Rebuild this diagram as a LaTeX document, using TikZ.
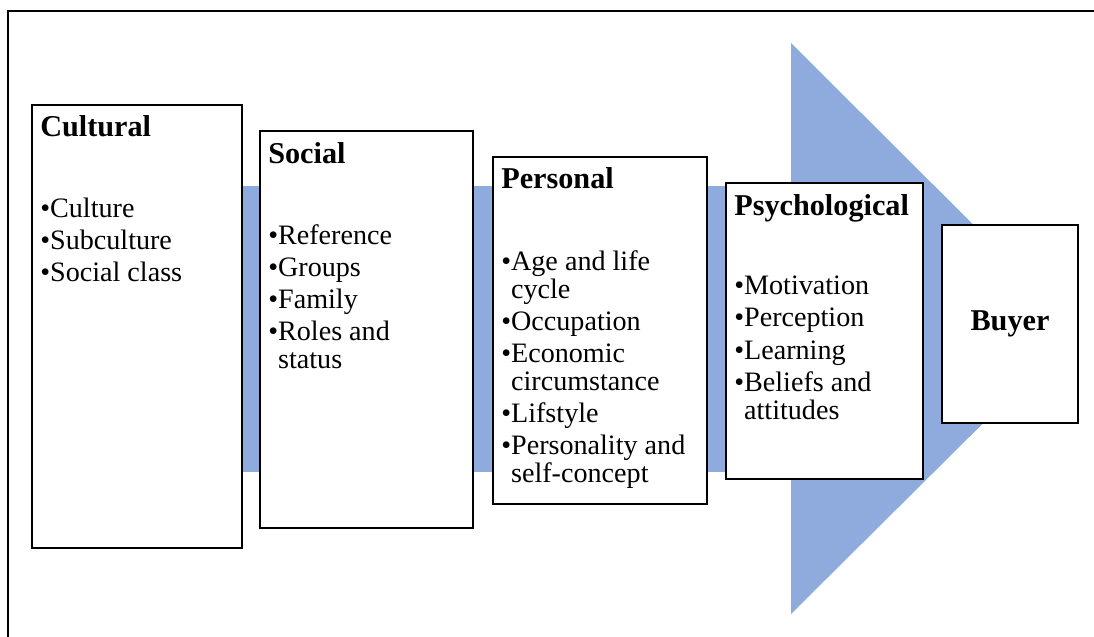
\documentclass[tikz,border=0pt]{standalone}
\usepackage{fontspec}
\setmainfont{Liberation Serif}
\usetikzlibrary{calc}
\definecolor{FlowBlue}{HTML}{8FAADC}

\begin{document}
\begin{tikzpicture}[x=0.025cm,y=-0.025cm,
    factor/.style={draw,line width=1.4pt,fill=white,anchor=north west,inner sep=0pt},
    heading/.style={anchor=base west,inner sep=0pt,font=\fontsize{21.5}{24}\selectfont\bfseries},
    items/.style={anchor=north west,inner sep=0pt,align=left,font=\fontsize{20}{19.9}\selectfont}]
  \useasboundingbox (0,0) rectangle (1094,637);
  % outer frame
  \draw[line width=1.4pt] (8,637) -- (8,11) -- (1094,11);
  % band and arrow head behind the boxes
  \fill[FlowBlue] (200,186) rectangle (792,472);
  \fill[FlowBlue] (791,43) -- (1078,329) -- (791,614) -- cycle;

  % factor boxes
  \node[factor,minimum width=5.25cm,minimum height=11.075cm] (cult) at (31,104) {};
  \node[factor,minimum width=5.325cm,minimum height=9.925cm] (soc) at (259,130) {};
  \node[factor,minimum width=5.35cm,minimum height=8.675cm] (pers) at (492,156) {};
  \node[factor,minimum width=4.925cm,minimum height=7.4cm] (psych) at (725,182) {};
  \node[factor,minimum width=3.4cm,minimum height=4.95cm] (buyer) at (941,224) {};

  % headings
  \node[heading] (cultT) at ($(cult.north west)+(9,33)$) {Cultural};
  \node[heading] (socT) at ($(soc.north west)+(9,33)$) {Social};
  \node[heading] (persT) at ($(pers.north west)+(9,33)$) {Personal};
  \node[heading] (psychT) at ($(psych.north west)+(9,33)$) {Psychological};
  \node[font=\fontsize{21.5}{24}\selectfont\bfseries] (buyerT) at (buyer.center) {Buyer};

  % bullet lists
  \node[items] (cultL) at ($(cultT.base west)+(0,61)$)
    {\textbullet Culture\\[2.9pt]\textbullet Subculture\\[2.9pt]\textbullet Social class};
  \node[items] (socL) at ($(socT.base west)+(0,61)$)
    {\textbullet Reference\\[2.9pt]\textbullet Groups\\[2.9pt]\textbullet Family\\[2.9pt]%
     \textbullet Roles and\\\phantom{\textbullet}status};
  \node[items] (persL) at ($(persT.base west)+(0,61)$)
    {\textbullet Age and life\\\phantom{\textbullet}cycle\\[2.9pt]\textbullet Occupation\\[2.9pt]%
     \textbullet Economic\\\phantom{\textbullet}circumstance\\[2.9pt]\textbullet Lifstyle\\[2.9pt]%
     \textbullet Personality and\\\phantom{\textbullet}self-concept};
  \node[items] (psychL) at ($(psychT.base west)+(0,61)$)
    {\textbullet Motivation\\[2.9pt]\textbullet Perception\\[2.9pt]\textbullet Learning\\[2.9pt]%
     \textbullet Beliefs and\\\phantom{\textbullet}attitudes};
\end{tikzpicture}
\end{document}
